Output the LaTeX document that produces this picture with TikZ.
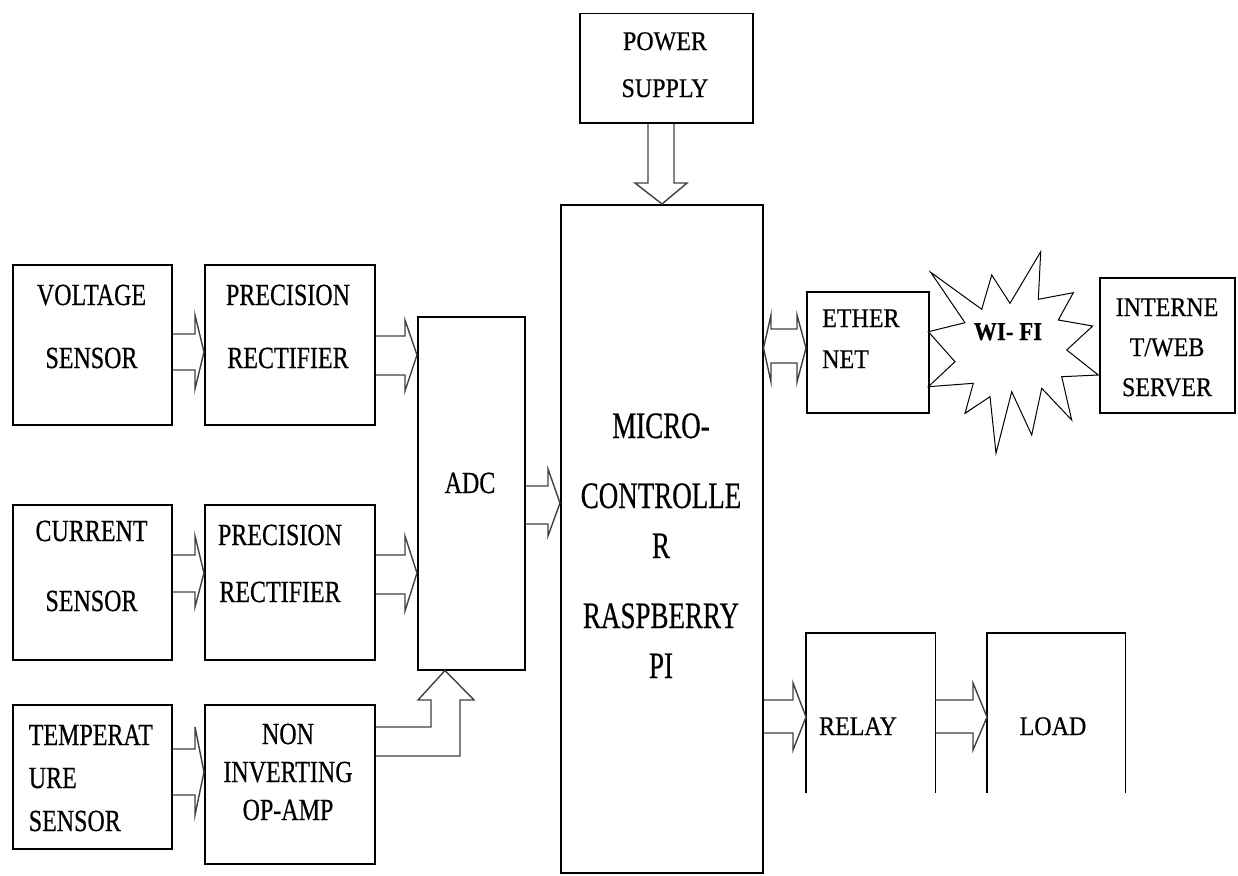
\documentclass[tikz,border=0pt]{standalone}
\usepackage{fontspec}
\setmainfont{Liberation Serif}[FakeBold=0.6]
\usetikzlibrary{calc}
\newcommand\sy[1]{\scalebox{1}[\ysc]{#1}}
\def\ysc{1.25}
\begin{document}
\begin{tikzpicture}[x=1pt,y=-1pt,
  box/.style={draw, line width=1.5pt, inner sep=0pt, anchor=north west},
  openbox/.style={inner sep=0pt, anchor=north west},
  blk/.style={draw=black!75, line width=1.4pt, line join=miter},
  lbl/.style={inner sep=0pt, anchor=base, align=center},
  big/.style={font=\fontsize{24}{#1}\selectfont\def\ysc{1.28}},
  mid/.style={font=\fontsize{24}{#1}\selectfont\def\ysc{1.12}},
]
\useasboundingbox (0,0) rectangle (1238,875);

% boxes
\node[box, minimum width=159pt, minimum height=160pt] (volt) at (12,264) {};
\node[box, minimum width=170pt, minimum height=160pt] (prec1) at (204,264) {};
\node[box, minimum width=159pt, minimum height=155pt] (curr) at (12,504) {};
\node[box, minimum width=170pt, minimum height=155pt] (prec2) at (204,504) {};
\node[box, minimum width=159pt, minimum height=144pt] (temp) at (12,704) {};
\node[box, minimum width=170pt, minimum height=159pt] (noninv) at (204,704) {};
\node[box, minimum width=107pt, minimum height=353pt] (adc) at (417,316) {};
\node[box, minimum width=173pt, minimum height=109pt] (power) at (579,13) {};
\node[box, minimum width=202pt, minimum height=668pt] (micro) at (560,204) {};
\node[box, minimum width=122pt, minimum height=121pt] (ether) at (806,291) {};
\node[box, minimum width=135pt, minimum height=135pt] (inet) at (1099,277) {};
\node[openbox, minimum width=129pt, minimum height=160pt] (relay) at (806,633) {};
\node[openbox, minimum width=138pt, minimum height=160pt] (load) at (987,633) {};
\draw[line width=1.5pt] (relay.south west) -- (relay.north west) -- (relay.north east) -- (relay.south east);
\draw[line width=1.5pt] (load.south west) -- (load.north west) -- (load.north east) -- (load.south east);

% labels (anchor = baseline of last line)
\node[lbl, big=63] (voltT) at (91.5,368) {\sy{VOLTAGE}\\\sy{SENSOR}};
\node[lbl, big=63] (prec1T) at (288,368) {\sy{PRECISION}\\\sy{RECTIFIER}};
\node[lbl, big=70] (currT) at (91.5,611) {\sy{CURRENT}\\\sy{SENSOR}};
\node[lbl, big=57] (prec2T) at (280,602) {\sy{PRECISION}\\\sy{RECTIFIER}};
\node[lbl, big=43, align=left, anchor=base west] (tempT) at (28.6,831) {\sy{TEMPERAT}\\\sy{URE}\\\sy{SENSOR}};
\node[lbl, big=38] (noninvT) at (288,820) {\sy{NON}\\\sy{INVERTING}\\\sy{OP-AMP}};
\node[lbl, big=40] (adcT) at (470,493) {\sy{ADC}};
\node[lbl, mid=47] (powerT) at (665,97) {\sy{POWER}\\\sy{SUPPLY}};
\node[lbl, font=\fontsize{27}{50}\selectfont\def\ysc{1.38}] (microT) at (661,678)
  {\sy{MICRO-}\\[20pt]\sy{CONTROLLE}\\\sy{R}\\[20pt]\sy{RASPBERRY}\\\sy{PI}};
\node[lbl, mid=41, align=left, anchor=base west] (etherT) at (822,368) {\sy{ETHER}\\\sy{NET}};
\node[lbl, mid=40] (inetT) at (1167,396) {\sy{INTERNE}\\\sy{T/WEB}\\\sy{SERVER}};
\node[lbl, mid=40] (relayT) at (858,735) {\sy{RELAY}};
\node[lbl, mid=40] (loadT) at (1053,735) {\sy{LOAD}};

% Wi-Fi starburst
\draw[line width=1pt, line join=miter]
  (930.7,272.3) -- (981.7,309.3) -- (991.7,275) -- (1010,303.3) -- (1040.7,251.7)
  -- (1038.3,299.3) -- (1073.3,292.7) -- (1058.3,320) -- (1092.7,326)
  -- (1066.7,350) -- (1098.3,375) -- (1061.7,376.7) -- (1071.7,420)
  -- (1041.7,388.3) -- (1031.7,435) -- (1011.7,391.7) -- (996,453.3)
  -- (990,396.7) -- (965,413.3) -- (973.3,383.3) -- (928.3,386.7)
  -- (955,361.7) -- (928.3,331.7) -- (965,322.7) -- cycle;
\node[lbl, font=\fontsize{23}{30}\selectfont\bfseries\def\ysc{1.12}] (wifiT) at (1008,340) {\sy{WI- FI}};

% block arrows
\draw[blk] (volt.east |- 0,334) -- (195,334) -- (195,315) -- (prec1.west |- 0,352)
  -- (195,389) -- (195,370) -- (volt.east |- 0,370);
\draw[blk] (curr.east |- 0,555) -- (195,555) -- (195,536) -- (prec2.west |- 0,573)
  -- (195,607) -- (195,592) -- (curr.east |- 0,592);
\draw[blk] (temp.east |- 0,749) -- (195,749) -- (195,727) -- (noninv.west |- 0,772)
  -- (195,815) -- (195,795) -- (temp.east |- 0,795);
\draw[blk] (prec1.east |- 0,336) -- (405,336) -- (405,320) -- (adc.west |- 0,355)
  -- (405,391) -- (405,375) -- (prec1.east |- 0,375);
\draw[blk] (prec2.east |- 0,555) -- (405,555) -- (405,536) -- (adc.west |- 0,573)
  -- (405,611) -- (405,594) -- (prec2.east |- 0,594);
\draw[blk] (adc.east |- 0,486) -- (548,486) -- (548,469) -- (micro.west |- 0,503)
  -- (548,536) -- (548,524) -- (adc.east |- 0,524);
\draw[blk] (power.south -| 648,0) -- (648,183) -- (635,183) -- (micro.north -| 662,0)
  -- (687,183) -- (674,183) -- (power.south -| 674,0);
\draw[blk] (noninv.east |- 0,727) -- (431,727) -- (431,700) -- (418,700)
  -- (adc.south -| 445,0) -- (474,700) -- (460,700) -- (460,756) -- (noninv.east |- 0,756);
\draw[blk] (micro.east |- 0,348) -- (771,315) -- (771,329) -- (797,329) -- (797,315)
  -- (ether.west |- 0,348) -- (797,382) -- (797,363) -- (771,363) -- (771,382) -- cycle;
\draw[blk] (micro.east |- 0,700) -- (793,700) -- (793,683) -- (relay.west |- 0,717)
  -- (793,750) -- (793,733) -- (micro.east |- 0,733);
\draw[blk] (relay.east |- 0,700) -- (973,700) -- (973,683) -- (load.west |- 0,717)
  -- (973,750) -- (973,733) -- (relay.east |- 0,733);
\end{tikzpicture}
\end{document}
